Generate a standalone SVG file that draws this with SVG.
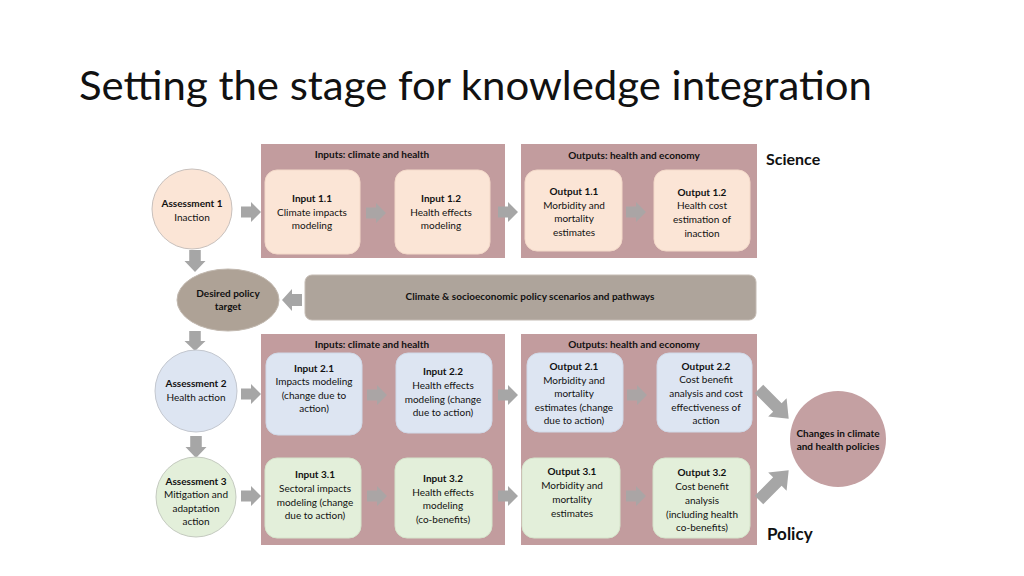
<svg xmlns="http://www.w3.org/2000/svg" xmlns:xlink="http://www.w3.org/1999/xlink" width="1024" height="576" viewBox="0 0 1024 576">
<defs>
<style>
text{font-family:Lato,"Open Sans","Liberation Sans",sans-serif;fill:#111;text-anchor:middle}
.t{font-size:10px}
.b{font-weight:bold}
.hdr{font-size:10px;font-weight:bold}
.panel{fill:#c29c9e}
.peach{fill:#fbe5d6;stroke:#f3d9c9;stroke-width:1}
.blue{fill:#dde5f2;stroke:#d0d9e8;stroke-width:1}
.green{fill:#e3efda;stroke:#d5e4cb;stroke-width:1}
.arr{fill:#a6a6a6}
.arri{fill:#aaa5a5}
</style>
<path id="ar" d="M0,-5.5 H10 V-10 L20,0 L10,10 V5.5 H0 Z"/>
<path id="ad" d="M0,-6 H26 V-13 L42,0 L26,13 V6 H0 Z"/>
</defs>
<rect width="1024" height="576" fill="#ffffff"/>
<text x="79" y="100" style="font-size:40px;text-anchor:start" textLength="793" lengthAdjust="spacingAndGlyphs">Setting the stage for knowledge integration</text>

<g id="panels">
<rect class="panel" x="261" y="144" width="244" height="114"/>
<rect class="panel" x="521" y="144" width="236" height="114"/>
<rect class="panel" x="261" y="334" width="244" height="211"/>
<rect class="panel" x="521" y="334" width="236" height="211"/>
<text class="hdr" x="372" y="158">Inputs: climate and health</text>
<text class="hdr" x="634" y="159">Outputs: health and economy</text>
<text class="hdr" x="372" y="348">Inputs: climate and health</text>
<text class="hdr" x="634" y="348">Outputs: health and economy</text>
</g>

<g id="science"><text x="766" y="165" style="font-size:16px;font-weight:bold;text-anchor:start">Science</text></g>
<g id="policy"><text x="767" y="540" style="font-size:17px;font-weight:bold;text-anchor:start">Policy</text></g>

<g id="connectors">
<use href="#ar" class="arr" transform="translate(241,212)"/>
<use href="#ar" class="arri" transform="translate(366,213)"/>
<use href="#ar" class="arr" transform="translate(498,212)"/>
<use href="#ar" class="arri" transform="translate(626,212)"/>
<use href="#ar" class="arr" transform="translate(195,250) rotate(90) scale(1.1,1.05)"/>
<use href="#ar" class="arr" transform="translate(302,300) rotate(180) scale(1,1.1)"/>
<use href="#ar" class="arr" transform="translate(195,331) rotate(90) scale(1,1.05)"/>
<use href="#ar" class="arr" transform="translate(241,394)"/>
<use href="#ar" class="arri" transform="translate(367,395)"/>
<use href="#ar" class="arr" transform="translate(498,395)"/>
<use href="#ar" class="arri" transform="translate(627,395)"/>
<use href="#ar" class="arr" transform="translate(196,436) rotate(90) scale(1.1,1.05)"/>
<use href="#ar" class="arr" transform="translate(241,496)"/>
<use href="#ar" class="arri" transform="translate(367,496)"/>
<use href="#ar" class="arr" transform="translate(498,496)"/>
<use href="#ar" class="arri" transform="translate(626,496)"/>
<use href="#ad" class="arr" transform="translate(759,389) rotate(45)"/>
<use href="#ad" class="arr" transform="translate(759,500) rotate(-45)"/>
</g>

<g id="assessment1">
<circle cx="192" cy="209" r="40" fill="#fbe5d6" stroke="#c8c0bc" stroke-width="1"/>
<text class="t b" x="192" y="207">Assessment 1</text>
<text class="t" x="192" y="221">Inaction</text>
</g>
<g id="input11">
<rect class="peach" x="265" y="170" width="95" height="84" rx="12"/>
<text class="t b" x="312" y="202">Input 1.1</text>
<text class="t" x="312" y="216">Climate impacts</text>
<text class="t" x="312" y="229">modeling</text>
</g>
<g id="input12">
<rect class="peach" x="395" y="170" width="95" height="84" rx="12"/>
<text class="t b" x="441" y="202">Input 1.2</text>
<text class="t" x="441" y="216">Health effects</text>
<text class="t" x="441" y="229">modeling</text>
</g>
<g id="output11">
<rect class="peach" x="525" y="170" width="97" height="81" rx="12"/>
<text class="t b" x="574" y="195">Output 1.1</text>
<text class="t" x="574" y="209">Morbidity and</text>
<text class="t" x="574" y="222">mortality</text>
<text class="t" x="574" y="236">estimates</text>
</g>
<g id="output12">
<rect class="peach" x="654" y="170" width="96" height="81" rx="12"/>
<text class="t b" x="702" y="196">Output 1.2</text>
<text class="t" x="702" y="209">Health cost</text>
<text class="t" x="702" y="223">estimation of</text>
<text class="t" x="702" y="237">inaction</text>
</g>

<g id="desired">
<ellipse cx="228" cy="300" rx="51" ry="31" fill="#aea296" stroke="#c2b9b0" stroke-width="1"/>
<text class="t b" x="228" y="297">Desired policy</text>
<text class="t b" x="228" y="310">target</text>
</g>
<g id="scenarios">
<rect x="305" y="275" width="451" height="45" rx="7" fill="#aea49b" stroke="#c4bbb3" stroke-width="1"/>
<text class="t b" x="530" y="300">Climate &amp; socioeconomic policy scenarios and pathways</text>
</g>

<g id="assessment2">
<circle cx="196" cy="391" r="41" fill="#dde5f2" stroke="#c3c7cf" stroke-width="1"/>
<text class="t b" x="196" y="387">Assessment 2</text>
<text class="t" x="196" y="401">Health action</text>
</g>
<g id="input21">
<rect class="blue" x="266" y="353" width="96" height="82" rx="12"/>
<text class="t b" x="314" y="372">Input 2.1</text>
<text class="t" x="314" y="385">Impacts modeling</text>
<text class="t" x="314" y="399">(change due to</text>
<text class="t" x="314" y="412">action)</text>
</g>
<g id="input22">
<rect class="blue" x="396" y="353" width="96" height="80" rx="12"/>
<text class="t b" x="443" y="375">Input 2.2</text>
<text class="t" x="443" y="389">Health effects</text>
<text class="t" x="443" y="403">modeling (change</text>
<text class="t" x="443" y="416">due to action)</text>
</g>
<g id="output21">
<rect class="blue" x="527" y="353" width="96" height="79" rx="12"/>
<text class="t b" x="574" y="370">Output 2.1</text>
<text class="t" x="574" y="384">Morbidity and</text>
<text class="t" x="574" y="397">mortality</text>
<text class="t" x="574" y="411">estimates (change</text>
<text class="t" x="574" y="424">due to action)</text>
</g>
<g id="output22">
<rect class="blue" x="657" y="353" width="95" height="79" rx="12"/>
<text class="t b" x="706" y="370">Output 2.2</text>
<text class="t" x="706" y="383">Cost benefit</text>
<text class="t" x="706" y="397">analysis and cost</text>
<text class="t" x="706" y="411">effectiveness of</text>
<text class="t" x="706" y="424">action</text>
</g>

<g id="assessment3">
<circle cx="196" cy="497" r="40" fill="#e3efda" stroke="#c4cabf" stroke-width="1"/>
<text class="t b" x="196" y="485">Assessment 3</text>
<text class="t" x="196" y="498">Mitigation and</text>
<text class="t" x="196" y="512">adaptation</text>
<text class="t" x="196" y="525">action</text>
</g>
<g id="input31">
<rect class="green" x="265" y="458" width="96" height="80" rx="12"/>
<text class="t b" x="315" y="478">Input 3.1</text>
<text class="t" x="315" y="492">Sectoral impacts</text>
<text class="t" x="315" y="506">modeling (change</text>
<text class="t" x="315" y="519">due to action)</text>
</g>
<g id="input32">
<rect class="green" x="395" y="458" width="97" height="80" rx="12"/>
<text class="t b" x="443" y="482">Input 3.2</text>
<text class="t" x="443" y="496">Health effects</text>
<text class="t" x="443" y="509">modeling</text>
<text class="t" x="443" y="523">(co-benefits)</text>
</g>
<g id="output31">
<rect class="green" x="522" y="458" width="98" height="80" rx="12"/>
<text class="t b" x="572" y="475">Output 3.1</text>
<text class="t" x="572" y="489">Morbidity and</text>
<text class="t" x="572" y="503">mortality</text>
<text class="t" x="572" y="517">estimates</text>
</g>
<g id="output32">
<rect class="green" x="653" y="458" width="97" height="80" rx="12"/>
<text class="t b" x="702" y="476">Output 3.2</text>
<text class="t" x="702" y="490">Cost benefit</text>
<text class="t" x="702" y="504">analysis</text>
<text class="t" x="702" y="518">(including health</text>
<text class="t" x="702" y="531">co-benefits)</text>
</g>

<g id="changes">
<circle cx="838" cy="439" r="48" fill="#c4a0a2"/>
<text class="t b" x="838" y="437">Changes in climate</text>
<text class="t b" x="838" y="450">and health policies</text>
</g>
</svg>
